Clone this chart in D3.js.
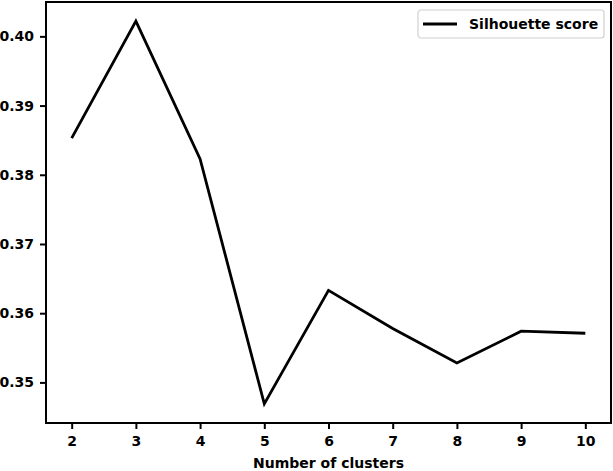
<!DOCTYPE html>
<html>
<head>
<meta charset="utf-8">
<script src="https://cdn.jsdelivr.net/npm/d3@7"></script>
<style>
  body { margin: 0; background: #fff; }
  svg { display: block; font-family: "DejaVu Sans", sans-serif; font-weight: bold; }
</style>
</head>
<body>
<svg id="chart"></svg>
<script>
// Data
var clusters = [2, 3, 4, 5, 6, 7, 8, 9, 10];
var scores = [0.3853, 0.4022, 0.3823, 0.3469, 0.3633, 0.3578, 0.3528, 0.3574, 0.3571];
var yTicks = [0.35, 0.36, 0.37, 0.38, 0.39, 0.40];
var seriesName = "Silhouette score";
var xLabel = "Number of clusters";

var width = 613,
    height = 471,
    margin = {top: 2, right: 2, bottom: 48, left: 46};

// matplotlib style 5% margins around the data
function padded(ext) {
  var p = (ext[1] - ext[0]) * 0.05;
  return [ext[0] - p, ext[1] + p];
}

var x = d3.scaleLinear()
  .domain(padded(d3.extent(clusters)))
  .range([margin.left, width - margin.right]);

var y = d3.scaleLinear()
  .domain(padded(d3.extent(scores)))
  .range([height - margin.bottom, margin.top]);

var svg = d3.select("#chart")
  .attr("width", width)
  .attr("height", height);

// axes
var xAxis = svg.append("g")
  .attr("transform", "translate(0," + (height - margin.bottom) + ")")
  .call(d3.axisBottom(x).tickValues(clusters).tickFormat(d3.format("d")).tickSize(6).tickPadding(7));

var yAxis = svg.append("g")
  .attr("transform", "translate(" + margin.left + ",0)")
  .call(d3.axisLeft(y).tickValues(yTicks).tickFormat(d3.format(".2f")).tickSize(6).tickPadding(6));

[xAxis, yAxis].forEach(function(a) {
  a.select(".domain").remove();
  a.selectAll(".tick line").attr("stroke", "#000").attr("stroke-width", 2);
  a.selectAll(".tick text")
    .attr("fill", "#000")
    .style("font-size", "14px")
    .style("font-family", "DejaVu Sans, sans-serif")
    .style("font-weight", "bold");
});

// frame
svg.append("rect")
  .attr("x", margin.left)
  .attr("y", margin.top)
  .attr("width", width - margin.left - margin.right)
  .attr("height", height - margin.top - margin.bottom)
  .attr("fill", "none")
  .attr("stroke", "#000")
  .attr("stroke-width", 2);

// the line
var line = d3.line()
  .x(function(d, i) { return x(clusters[i]); })
  .y(function(d) { return y(d); });

svg.append("path")
  .datum(scores)
  .attr("d", line)
  .attr("fill", "none")
  .attr("stroke", "#000")
  .attr("stroke-width", 2.8)
  .attr("stroke-linejoin", "miter");

// x label
svg.append("text")
  .attr("x", (margin.left + width - margin.right) / 2)
  .attr("y", 468)
  .attr("text-anchor", "middle")
  .style("font-size", "14px")
  .text(xLabel);

// legend
var legend = svg.append("g").attr("transform", "translate(418,10)");

legend.append("rect")
  .attr("width", 186)
  .attr("height", 28)
  .attr("rx", 3)
  .attr("fill", "#fff")
  .attr("stroke", "#d0d0d0")
  .attr("stroke-width", 1.2);

legend.append("line")
  .attr("x1", 5).attr("x2", 39)
  .attr("y1", 14).attr("y2", 14)
  .attr("stroke", "#000")
  .attr("stroke-width", 2.8);

legend.append("text")
  .attr("x", 51)
  .attr("y", 19)
  .style("font-size", "14px")
  .text(seriesName);
</script>
</body>
</html>
